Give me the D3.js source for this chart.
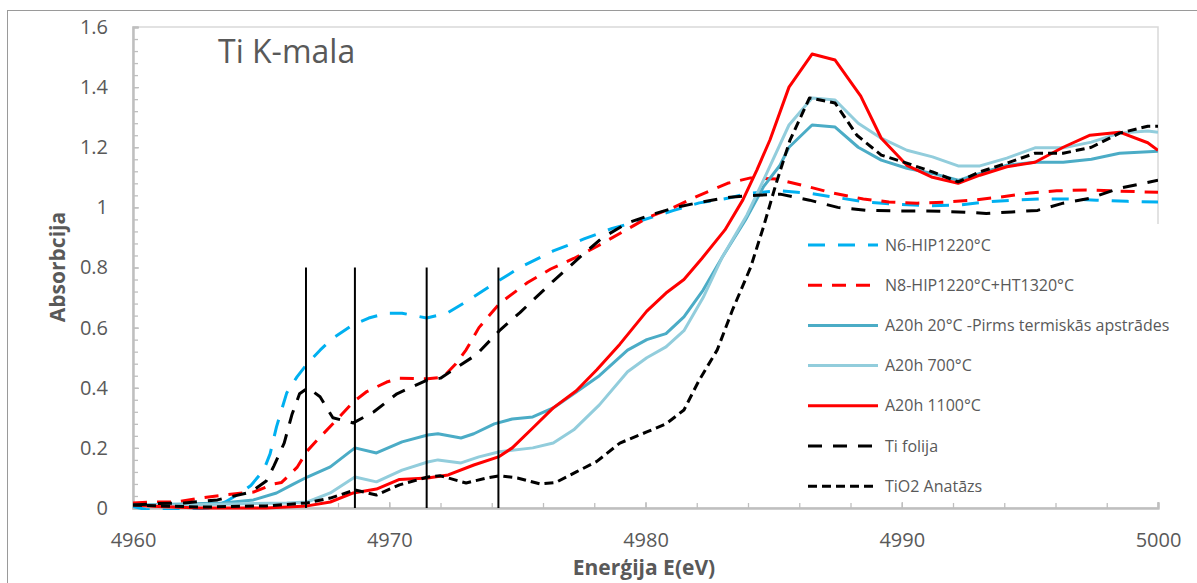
<!DOCTYPE html>
<html>
<head>
<meta charset="utf-8">
<script src="https://cdn.jsdelivr.net/npm/d3@7/dist/d3.min.js"></script>
<style>
  html, body { margin: 0; padding: 0; background: #fff; }
  svg { display: block; font-family: "Open Sans", sans-serif; }
</style>
</head>
<body>
<svg id="chart" width="1197" height="583"></svg>
<script>
// ---------------- DATA ----------------
const titleText = "Ti K-mala";
const xAxisTitle = "Enerģija E(eV)";
const yAxisTitle = "Absorbcija";
const xTicks = [4960, 4970, 4980, 4990, 5000];
const xTickLabels = ["4960", "4970", "4980", "4990", "5000"];
const yTicks = [0, 0.2, 0.4, 0.6, 0.8, 1, 1.2, 1.4, 1.6];
const yTickLabels = ["0", "0.2", "0.4", "0.6", "0.8", "1", "1.2", "1.4", "1.6"];

const seriesNames = [
  "N6-HIP1220°C",
  "N8-HIP1220°C+HT1320°C",
  "A20h 20°C -Pirms termiskās apstrādes",
  "A20h 700°C",
  "A20h 1100°C",
  "Ti folija",
  "TiO2 Anatāzs"
];

// N6-HIP1220°C
const n6E = [4960.0,4960.5,4961.5,4962.5,4963.0,4963.6,4964.2,4964.6,4965.1,4965.35,4965.6,4966.0,4966.4,4966.8,4967.3,4967.8,4968.6,4969.2,4969.9,4970.5,4971.46,4972.25,4973.0,4974.25,4975.1,4976.4,4977.6,4978.7,4979.9,4981.1,4982.1,4983.2,4984.0,4985.25,4986.3,4987.3,4988.6,4989.9,4991.1,4992.3,4993.3,4994.3,4995.4,4996.4,4997.6,4998.8,5000];
const n6A = [0.005,-0.005,-0.008,-0.003,0.0,0.02,0.05,0.075,0.126,0.18,0.27,0.383,0.436,0.48,0.525,0.565,0.61,0.632,0.648,0.648,0.632,0.648,0.686,0.755,0.80,0.855,0.895,0.93,0.958,0.99,1.015,1.03,1.047,1.055,1.048,1.035,1.018,1.01,1.005,1.008,1.018,1.024,1.028,1.028,1.024,1.02,1.018];

// N8-HIP1220°C+HT1320°C
const n8E = [4960.0,4960.7,4961.7,4962.6,4963.7,4964.7,4965.5,4965.8,4966.4,4966.8,4967.3,4967.8,4968.6,4969.1,4969.9,4970.4,4971.5,4972.1,4972.6,4973.0,4973.5,4974.3,4975.4,4976.3,4977.2,4978.1,4979.1,4980.06,4981.1,4982.1,4983.2,4984.1,4985.1,4986.3,4987.3,4988.5,4989.5,4990.6,4991.8,4992.8,4993.8,4995.0,4996.05,4997.2,4998.2,5000];
const n8A = [0.017,0.02,0.02,0.033,0.045,0.053,0.08,0.085,0.135,0.19,0.236,0.28,0.353,0.386,0.419,0.432,0.43,0.435,0.48,0.526,0.60,0.68,0.75,0.795,0.83,0.87,0.918,0.965,1.0,1.04,1.08,1.098,1.094,1.07,1.048,1.028,1.018,1.014,1.018,1.024,1.034,1.048,1.055,1.058,1.055,1.05];

// A20h 20°C
const a20E = [4960,4962,4963.5,4964.7,4965.6,4966.2,4966.8,4967.7,4968.66,4969.5,4970.5,4971.5,4971.9,4972.8,4973.3,4974.1,4974.8,4975.6,4976.4,4977.3,4978.2,4979.3,4980.05,4980.8,4981.5,4982.25,4983.0,4983.9,4984.6,4985.25,4985.6,4986.5,4987.4,4988.3,4989.2,4990.2,4991.2,4992.2,4993.05,4994.1,4995.2,4996.3,4997.4,4998.5,5000];
const a20A = [0.01,0.013,0.017,0.027,0.05,0.077,0.103,0.137,0.20,0.183,0.22,0.243,0.247,0.233,0.247,0.28,0.296,0.303,0.333,0.386,0.44,0.525,0.56,0.58,0.636,0.725,0.835,0.958,1.068,1.14,1.2,1.274,1.267,1.2,1.157,1.13,1.113,1.09,1.113,1.14,1.15,1.15,1.16,1.18,1.187];

// A20h 700°C
const a700E = [4960,4962,4966.0,4966.8,4967.7,4968.66,4969.5,4970.5,4971.5,4971.9,4972.8,4973.5,4974.3,4975.6,4976.4,4977.2,4978.2,4979.3,4980.05,4980.8,4981.5,4982.25,4983.0,4983.96,4984.7,4985.6,4986.5,4987.4,4988.3,4989.2,4990.2,4991.2,4992.2,4993.05,4994.1,4995.2,4996.3,4997.4,4998.5,4999.6,5000];
const a700A = [0.01,0.01,0.017,0.02,0.05,0.103,0.087,0.126,0.153,0.16,0.15,0.17,0.187,0.2,0.216,0.26,0.343,0.453,0.5,0.536,0.59,0.70,0.835,0.975,1.108,1.274,1.364,1.357,1.28,1.23,1.19,1.168,1.138,1.138,1.164,1.198,1.198,1.217,1.247,1.254,1.25];

// A20h 1100°C
const a1100E = [4960,4961,4962.6,4965.2,4966.8,4967.7,4968.6,4969.5,4970.4,4971.5,4972.3,4973.3,4974.26,4974.8,4975.6,4976.4,4977.3,4978.1,4979.0,4980.05,4980.8,4981.5,4982.2,4983.1,4983.8,4984.35,4984.86,4985.6,4986.5,4987.4,4988.4,4989.2,4990.2,4991.2,4992.2,4993.05,4994.1,4995.2,4996.3,4997.35,4998.5,4999.6,5000];
const a1100A = [0.01,0.005,0.0,0.0,0.007,0.02,0.05,0.063,0.095,0.10,0.11,0.143,0.17,0.2,0.266,0.333,0.39,0.46,0.545,0.655,0.715,0.76,0.83,0.925,1.025,1.125,1.225,1.40,1.51,1.49,1.37,1.23,1.14,1.10,1.08,1.107,1.135,1.15,1.20,1.24,1.25,1.215,1.19];

// Ti folija
const tiE = [4960,4961,4962,4963.3,4964.6,4965.2,4965.5,4965.9,4966.2,4966.5,4966.83,4967.3,4967.8,4968.6,4969.4,4970.3,4971.5,4972.0,4972.5,4973.4,4974.3,4975.1,4976.4,4977.45,4978.3,4979.3,4980.2,4981.2,4982.2,4983.3,4984.35,4985.25,4986.4,4987.5,4988.6,4989.8,4991.0,4992.2,4993.3,4994.3,4995.3,4996.3,4997.35,4998.5,5000];
const tiA = [0.01,0.015,0.017,0.027,0.053,0.09,0.14,0.216,0.31,0.38,0.40,0.37,0.30,0.283,0.32,0.38,0.426,0.432,0.46,0.51,0.59,0.65,0.755,0.835,0.898,0.948,0.975,1.0,1.018,1.034,1.04,1.044,1.024,1.0,0.99,0.988,0.988,0.985,0.98,0.985,0.99,1.014,1.03,1.064,1.09];

// TiO2 Anatāzs
const tio2E = [4960,4962.6,4965.2,4966.8,4967.7,4968.66,4969.5,4970.4,4971.5,4972.0,4973.0,4973.8,4974.3,4975.0,4975.9,4976.5,4977.3,4978.1,4979.0,4980.05,4980.8,4981.5,4982.1,4982.8,4983.4,4984.1,4984.6,4985.1,4985.64,4986.4,4987.4,4988.25,4989.2,4990.2,4991.2,4992.2,4993.05,4994.1,4995.2,4996.3,4997.4,4998.5,4999.6,5000];
const tio2A = [0.01,0.003,0.007,0.017,0.033,0.06,0.043,0.077,0.103,0.107,0.083,0.10,0.107,0.10,0.08,0.085,0.12,0.155,0.216,0.253,0.28,0.326,0.426,0.526,0.66,0.80,0.934,1.08,1.224,1.364,1.347,1.24,1.174,1.147,1.118,1.085,1.118,1.147,1.18,1.18,1.2,1.247,1.27,1.27];

// marker lines (eV)
const markerE = [4966.75, 4968.66, 4971.46, 4974.26];
const markerTop = 0.8;

// ---------------- STYLE ----------------
const styles = [
  { color: "#00b0f0", dash: "17,13" },
  { color: "#ff0000", dash: "14,10" },
  { color: "#4bacc6", dash: null },
  { color: "#92cddc", dash: null },
  { color: "#ff0000", dash: null },
  { color: "#000000", dash: "14,11" },
  { color: "#000000", dash: "9,5" }
];
const seriesE = [n6E, n8E, a20E, a700E, a1100E, tiE, tio2E];
const seriesA = [n6A, n8A, a20A, a700A, a1100A, tiA, tio2A];
const series = seriesNames.map((name, i) => ({
  name, ...styles[i],
  values: seriesE[i].map((e, j) => ({ e, a: seriesA[i][j] }))
}));

// ---------------- CHART ----------------
const svg = d3.select("#chart");
const plot = { left: 133, top: 27, right: 1158, bottom: 508 };
const x = d3.scaleLinear().domain([4960, 5000]).range([plot.left, plot.right]);
const y = d3.scaleLinear().domain([0, 1.6]).range([plot.bottom, plot.top]);
const textColor = "#595959";

// outer border (only top/left visible)
svg.append("rect").attr("x", 7.5).attr("y", 10.5).attr("width", 1300).attr("height", 700)
  .attr("fill", "none").attr("stroke", "#9a9a9a").attr("stroke-width", 1);

// plot area border
svg.append("rect").attr("x", plot.left).attr("y", plot.top)
  .attr("width", plot.right - plot.left).attr("height", plot.bottom - plot.top)
  .attr("fill", "none").attr("stroke", "#d9d9d9").attr("stroke-width", 1.5);

// title
svg.append("text").attr("x", 218).attr("y", 63).attr("fill", textColor)
  .style("font-size", "32px").text(titleText);

// clip
svg.append("clipPath").attr("id", "clip").append("rect")
  .attr("x", plot.left).attr("y", plot.top - 2)
  .attr("width", plot.right - plot.left).attr("height", plot.bottom - plot.top + 4);

// minor ticks
const yMinor = d3.range(0, 1.6001, 0.04);
const xMinor = d3.range(4960, 5000.001, 2);

const gYminor = svg.append("g").attr("transform", `translate(${plot.left},0)`)
  .call(d3.axisLeft(y).tickValues(yMinor).tickSize(-5).tickFormat(""));
const gXminor = svg.append("g").attr("transform", `translate(0,${plot.bottom})`)
  .call(d3.axisBottom(x).tickValues(xMinor).tickSize(-5).tickFormat(""));

const gY = svg.append("g").attr("transform", `translate(${plot.left},0)`)
  .call(d3.axisLeft(y).tickValues(yTicks).tickSize(-6).tickPadding(25)
    .tickFormat((d, i) => yTickLabels[i]));
const gX = svg.append("g").attr("transform", `translate(0,${plot.bottom})`)
  .call(d3.axisBottom(x).tickValues(xTicks).tickSize(-6).tickPadding(25)
    .tickFormat((d, i) => xTickLabels[i]));

[gYminor, gXminor, gY, gX].forEach(g => {
  g.select(".domain").attr("stroke", "#bfbfbf").attr("stroke-width", 2);
  g.selectAll(".tick line").attr("stroke", "#bfbfbf").attr("stroke-width", 1.3);
  g.selectAll(".tick text").attr("fill", textColor).style("font-size", "20px")
    .style("font-family", "'Open Sans', sans-serif");
});

// axis titles
svg.append("text").attr("transform", "translate(65,267) rotate(-90)")
  .attr("text-anchor", "middle").attr("fill", textColor)
  .style("font-size", "21px").style("font-weight", "bold").text(yAxisTitle);
svg.append("text").attr("x", 644).attr("y", 575)
  .attr("text-anchor", "middle").attr("fill", textColor)
  .style("font-size", "21px").style("font-weight", "bold").text(xAxisTitle);

// series lines
const line = d3.line().x(d => x(d.e)).y(d => y(d.a));
const gLines = svg.append("g").attr("clip-path", "url(#clip)");
series.forEach(s => {
  gLines.append("path").datum(s.values)
    .attr("d", line)
    .attr("fill", "none")
    .attr("stroke", s.color)
    .attr("stroke-width", 3)
    .attr("stroke-linejoin", "round")
    .attr("stroke-dasharray", s.dash);
});

// marker lines
svg.append("g").selectAll("line").data(markerE).join("line")
  .attr("x1", d => x(d)).attr("x2", d => x(d))
  .attr("y1", y(0)).attr("y2", y(markerTop))
  .attr("stroke", "#000").attr("stroke-width", 2);

// legend
const legend = svg.append("g");
legend.append("rect").attr("x", 795).attr("y", 224).attr("width", 392).attr("height", 278)
  .attr("fill", "#fff");
const legY0 = 245, legStep = 40.2;
series.forEach((s, i) => {
  const yy = legY0 + i * legStep;
  legend.append("line").attr("x1", 808).attr("x2", 878).attr("y1", yy).attr("y2", yy)
    .attr("stroke", s.color).attr("stroke-width", 3).attr("stroke-dasharray", s.dash);
  legend.append("text").attr("x", 885).attr("y", yy).attr("dy", "0.35em")
    .attr("fill", textColor).style("font-size", "16px").text(s.name);
});
</script>
</body>
</html>
